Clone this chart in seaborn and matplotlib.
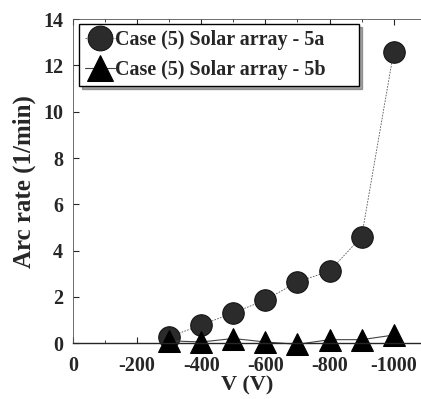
import matplotlib
matplotlib.use("Agg")
import matplotlib.pyplot as plt
import seaborn as sns
import pandas as pd

voltage = [-300, -400, -500, -600, -700, -800, -900, -1000]
rate_5a = [0.27, 0.78, 1.31, 1.86, 2.65, 3.11, 4.6, 12.6]
rate_5b = [0.1, 0.05, 0.2, 0.05, -0.05, 0.15, 0.15, 0.35]
label_5a = "Case (5) Solar array - 5a"
label_5b = "Case (5) Solar array - 5b"
x_ticks = [0, -200, -400, -600, -800, -1000]
y_ticks = [0, 2, 4, 6, 8, 10, 12, 14]

df = pd.DataFrame({
    "V": voltage * 2,
    "rate": rate_5a + rate_5b,
    "series": [label_5a] * len(voltage) + [label_5b] * len(voltage),
})

sns.set_style("ticks")
plt.rcParams['font.family'] = ['Liberation Serif', 'DejaVu Serif']
plt.rcParams['font.weight'] = 'bold'

fig = plt.figure(figsize=(4.21, 3.99), dpi=100)
ax = fig.add_axes([0.173, 0.140, 0.827, 0.812])

sub_a = df[df.series == label_5a]
sub_b = df[df.series == label_5b]
sns.lineplot(data=sub_a, x="V", y="rate", ax=ax, color="#555555", lw=0.6,
             linestyle=(0, (2, 1.5)), marker="o", markersize=15.5,
             markerfacecolor="#2b2b2b", markeredgecolor="#111111",
             label=label_5a, clip_on=False)
sns.lineplot(data=sub_b, x="V", y="rate", ax=ax, color="#444444", lw=0.8,
             marker="^", markersize=16, markerfacecolor="black",
             markeredgecolor="black", label=label_5b, clip_on=False)

ax.set_xlim(0, -1085)
ax.set_ylim(0, 14)
ax.set_xticks(x_ticks)
ax.set_xticklabels([str(t) for t in x_ticks])
ax.set_yticks(y_ticks)
ax.set_xticks([-100, -300, -500, -700, -900], minor=True)
ax.tick_params(axis='both', direction='in', which='both', top=True, right=False,
               labelsize=14.5)
ax.tick_params(axis='x', pad=9)
ax.tick_params(axis='y', pad=7)
ax.tick_params(which='major', length=4, width=0.8)
ax.tick_params(which='minor', length=2, width=0.6)
for lbl in ax.get_xticklabels() + ax.get_yticklabels():
    lbl.set_fontweight('bold')
ax.spines['right'].set_visible(False)
for s in ['left', 'top']:
    ax.spines[s].set_linewidth(0.6)
    ax.spines[s].set_color('#555555')
ax.spines['bottom'].set_linewidth(1.0)

ax.set_xlabel("V (V)", fontsize=16, fontweight='bold', labelpad=0)
ax.set_ylabel("Arc rate (1/min)", fontsize=18, fontweight='bold', labelpad=5)

leg = ax.legend(loc='upper left', bbox_to_anchor=(0.017, 0.80, 0.805, 0.185),
                mode='expand', frameon=True,
                fancybox=False, shadow=True, handlelength=1.5, handletextpad=0.0,
                borderpad=0.3, labelspacing=0.5, borderaxespad=0.0, markerscale=1.15,
                prop={'family': 'Liberation Serif', 'weight': 'bold', 'size': 14.4})
leg.get_frame().set_edgecolor('black')
leg.get_frame().set_linewidth(1.0)

fig.savefig("out.png", dpi=100)
